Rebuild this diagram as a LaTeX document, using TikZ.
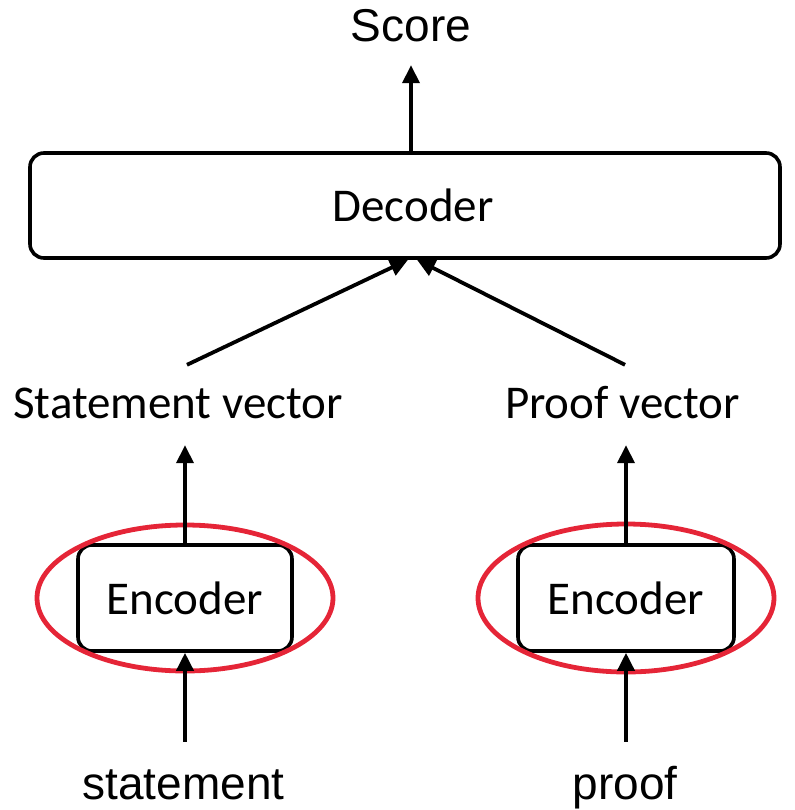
\documentclass[tikz,border=0pt]{standalone}
\usepackage{fontspec}
\setmainfont{Carlito}
\newfontfamily\arialfont{Liberation Sans}
\usetikzlibrary{arrows.meta}
\definecolor{ringred}{RGB}{229,37,55}

\begin{document}
\begin{tikzpicture}[x=1bp, y=-1bp,
        box/.style={draw, line width=3.6bp, rounded corners=14bp, inner sep=0pt,
            font=\fontsize{47bp}{56bp}\selectfont},
        arr/.style={line width=3.8bp, -{Triangle[length=18bp, width=17bp]}},
        ring/.style={draw=ringred, line width=4.8bp},
        lbl/.style={inner sep=0pt, anchor=base, text height=33bp, text depth=9bp,
            font=\fontsize{47bp}{56bp}\selectfont},
        io/.style={inner sep=0pt, anchor=base, text height=34bp, text depth=10bp,
            font=\arialfont\fontsize{46bp}{55bp}\selectfont}]
        \useasboundingbox (0,0) rectangle (795,810);
        % top
        \node[io] (score) at (411,42) {Score};
        \node[box, minimum width=750bp, minimum height=105bp] (decoder) at (405,205.5) {\hspace*{16bp}Decoder};
        % vectors
        \node[lbl] (stmtvec) at (178,418) {Statement vector};
        \node[lbl] (proofvec) at (622.5,418) {Proof vector};
        % encoders
        \node[box, minimum width=214bp, minimum height=106bp] (stmtenc) at (185,598) {Encoder};
        \node[box, minimum width=216bp, minimum height=106bp] (proofenc) at (626,598) {Encoder};
        \draw[ring] (stmtenc) ellipse [x radius=148, y radius=73];
        \draw[ring] (proofenc) ellipse [x radius=148, y radius=74];
        % inputs
        \node[io] (stmt) at (183.5,799) {statement};
        \node[io] (proof) at (625,799) {proof};
        % arrows
        \draw[arr, shorten >=13bp] (decoder.north -| score.south) -- (score.south);
        \draw[arr] ([xshift=9bp, yshift=20bp]stmtvec.north) -- ([xshift=3bp]decoder.south);
        \draw[arr] ([xshift=2.5bp, yshift=20bp]proofvec.north) -- ([xshift=12bp]decoder.south);
        \draw[arr, shorten >=18bp] (stmtenc.north) -- (stmtenc.north |- stmtvec.south);
        \draw[arr, shorten >=18bp] (proofenc.north) -- (proofenc.north |- proofvec.south);
        \draw[arr, shorten <=23bp] (stmtenc.south |- stmt.north) -- (stmtenc.south);
        \draw[arr, shorten <=23bp] (proofenc.south |- proof.north) -- (proofenc.south);
\end{tikzpicture}
\end{document}
